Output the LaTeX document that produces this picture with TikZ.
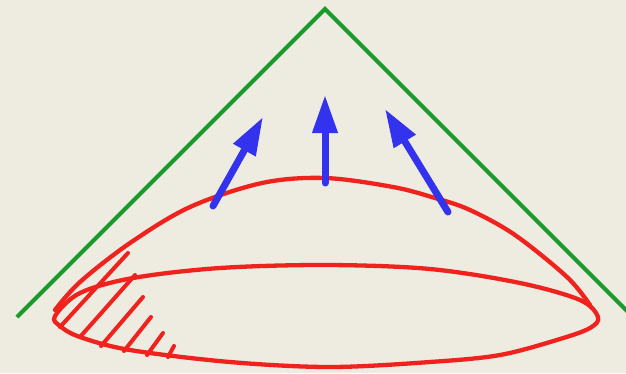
\documentclass[tikz,border=0pt]{standalone}
\usetikzlibrary{arrows.meta}
\definecolor{bg}{HTML}{EEEBE1}
\definecolor{cgreen}{HTML}{1A9A2A}
\definecolor{cred}{HTML}{F0221E}
\definecolor{cblue}{HTML}{3333EE}
\tikzset{
  cone/.style={cgreen, line width=4pt, line join=miter},
  redline/.style={cred, line width=4.3pt, line cap=round, line join=round},
  hatch/.style={cred, line width=4pt, line cap=round},
  vec/.style={cblue, line width=7pt, line cap=round, -{Triangle[length=38pt,width=24pt]}},
}
\begin{document}
\begin{tikzpicture}[x=1pt,y=-1pt]
\fill[bg] (0,0) rectangle (626,373);
\useasboundingbox (0,0) rectangle (626,373);
% light cone
\draw[cone] (17,317) -- (325,9) -- (630,314);
% bottom ellipse
\draw[redline] plot[smooth cycle, tension=0.55] coordinates {
  (55,316) (80,293) (133,278) (220,268) (327,265) (430,269) (520,283)
  (580,300) (598,317) (590,328) (560,339) (500,355) (430,362)
  (330,367) (230,362) (130,350) (80,337) (60,326)};
% dome
\draw[redline] plot[smooth, tension=0.55] coordinates {
  (55,310) (80,282) (130,243) (190,207) (262,183) (325,178) (393,187)
  (435,198) (470,210) (515,235) (567,277) (590,305)};
% hatching
\draw[hatch] (128,253) -- (60,327);
\draw[hatch] (135,275) -- (80,337);
\draw[hatch] (143,297) -- (101,346);
\draw[hatch] (151,317) -- (124,351);
\draw[hatch] (163,333) -- (147,355);
\draw[hatch] (174,346) -- (168,357);
% arrows
\draw[vec] (213,206) -- (263,117);
\draw[vec] (325,183) -- (325,95);
\draw[vec] (448,212) -- (385,109);
\end{tikzpicture}
\end{document}
